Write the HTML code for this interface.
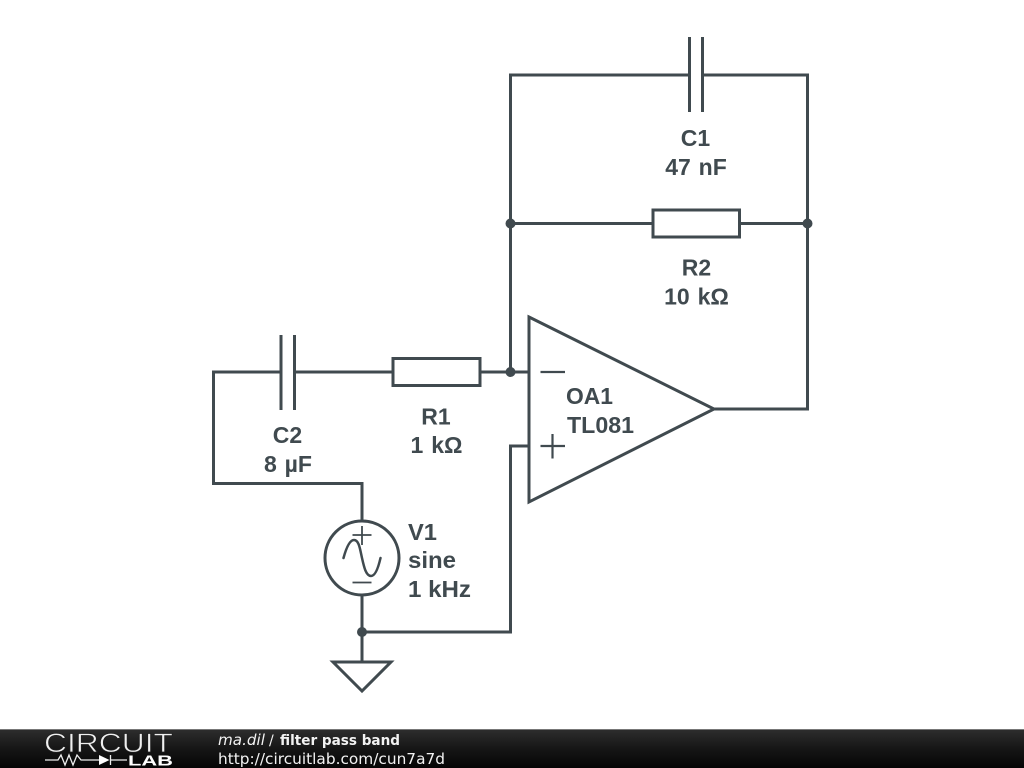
<!DOCTYPE html>
<html>
<head>
<meta charset="utf-8">
<style>
html,body{margin:0;padding:0;background:#fff}
body{width:1024px;height:768px;overflow:hidden;position:relative}
svg{position:absolute;left:0;top:0;display:block}
</style>
</head>
<body>
<svg width="1024" height="768" viewBox="0 0 1024 768" xmlns="http://www.w3.org/2000/svg">
<defs>
<linearGradient id="bar" x1="0" y1="0" x2="0" y2="1">
<stop offset="0" stop-color="#2e2e2e"/>
<stop offset="0.5" stop-color="#161616"/>
<stop offset="1" stop-color="#050505"/>
</linearGradient>
</defs>
<rect width="1024" height="768" fill="#fff"/>
<g fill="none" stroke="#404a4f" stroke-width="3" stroke-linecap="butt" stroke-linejoin="miter">
<!-- top loop -->
<path d="M689.5 75H510.5V372M702.5 75H807.5V409H714"/>
<path d="M689.5 37V112M702.5 37V112"/>
<!-- R2 -->
<path d="M510.5 223.500H653M739.5 223.500H807.5"/>
<rect x="653" y="210" width="86.500" height="27"/>
<!-- input chain -->
<path d="M281 372H213.500V483.500H362V521"/>
<path d="M281 335V410M294.500 335V410"/>
<path d="M294.500 372H393M480 372H529"/>
<rect x="393" y="358.500" width="87" height="27"/>
<!-- opamp -->
<path d="M529 317L714 409L529 502Z"/>
<path d="M540.500 372H565M540.500 446H565M552.500 434V458.500" stroke-width="2.200"/>
<path d="M529 446H510.500V632H362"/>
<!-- source -->
<circle cx="362" cy="558" r="37"/>
<path d="M362 595V662"/>
<path d="M352.500 535H371.500M362 526V545M352.500 582.500H371.500" stroke-width="1.800"/>
<path d="M343.500 558C346.500 547 350 540 354 540C359 540 360 549 362 558C364 567 366 576 371 576C375 576 378 569 380.500 558" stroke-width="2.500" stroke-linecap="round"/>
<!-- ground -->
<path d="M333 662H391L362 691Z"/>
</g>
<g fill="#404a4f">
<circle cx="510.500" cy="223.500" r="5"/>
<circle cx="807.500" cy="223.500" r="5"/>
<circle cx="510.500" cy="372" r="5"/>
<circle cx="362" cy="632" r="5"/>
</g>
<g font-family="'Liberation Sans',sans-serif" font-weight="700" font-size="23" fill="#404a4f" text-anchor="middle" word-spacing="1.500">
<text x="695.500" y="146">C1</text>
<text x="696" y="175">47 nF</text>
<text x="696.500" y="275.500">R2</text>
<text x="696.500" y="304.500">10 kΩ</text>
<text x="436" y="424.500">R1</text>
<text x="436.500" y="453">1 kΩ</text>
<text x="287.500" y="443">C2</text>
<text x="288" y="472">8 µF</text>
</g>
<g font-family="'Liberation Sans',sans-serif" font-weight="700" font-size="23" fill="#404a4f">
<text x="566" y="404" textLength="47" lengthAdjust="spacingAndGlyphs">OA1</text>
<text x="567" y="433" textLength="67" lengthAdjust="spacingAndGlyphs">TL081</text>
<text x="408" y="540" textLength="29" lengthAdjust="spacingAndGlyphs">V1</text>
<text x="408" y="568" textLength="48" lengthAdjust="spacingAndGlyphs">sine</text>
<text x="408" y="597" textLength="63" lengthAdjust="spacingAndGlyphs">1 kHz</text>
</g>
<!-- footer -->
<rect x="0" y="729" width="1024" height="39" fill="url(#bar)"/>
<rect x="0" y="729" width="1024" height="1" fill="#777"/>
<text x="44" y="752" font-family="'Liberation Sans',sans-serif" font-size="26.500" fill="#f0f0f0" stroke="#202020" stroke-width="0.700" textLength="129" lengthAdjust="spacingAndGlyphs">CIRCUIT</text>
<path d="M45 760H58L61 755L65 765L69 755L73 765L77 755L81 760H99M110 760H127M110.500 755V765" fill="none" stroke="#eee" stroke-width="1.300"/>
<path d="M99 755L109.500 760L99 765Z" fill="#fff"/>
<text x="128" y="765.500" font-family="'Liberation Sans',sans-serif" font-weight="700" font-size="14.500" fill="#fff" textLength="45" lengthAdjust="spacingAndGlyphs">LAB</text>
<g font-family="'DejaVu Sans',sans-serif" font-size="15" fill="#f2f2f2">
<text x="218" y="745" font-style="italic" textLength="47" lengthAdjust="spacingAndGlyphs">ma.dil</text>
<text x="269" y="745" font-size="14">/</text>
<text x="280" y="745" font-weight="700" font-size="14.500" textLength="120" lengthAdjust="spacingAndGlyphs">filter pass band</text>
<text x="218" y="764" textLength="227" lengthAdjust="spacingAndGlyphs">http://circuitlab.com/cun7a7d</text>
</g>
</svg>
</body>
</html>
